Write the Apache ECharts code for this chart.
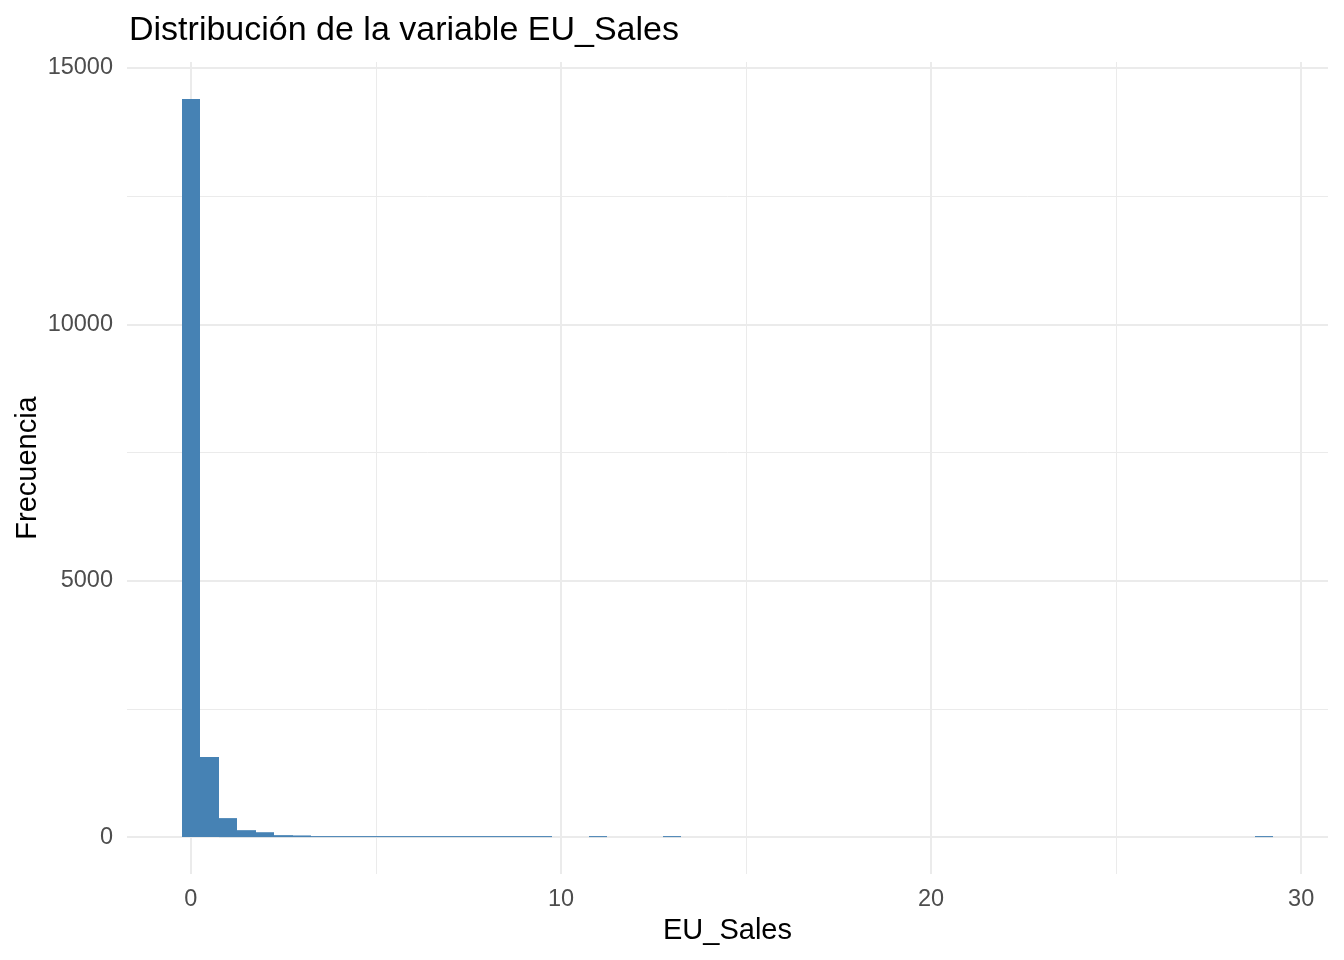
<!DOCTYPE html>
<html>
<head>
<meta charset="utf-8">
<script src="https://cdn.jsdelivr.net/npm/echarts@6/dist/echarts.min.js"></script>
<style>
html,body{margin:0;padding:0;background:#fff;}
#c{width:1344px;height:960px;}
</style>
</head>
<body>
<div id="c"></div>
<script>
// Histogram of EU_Sales (bin width 0.5, bins centred on multiples of 0.5)
const binCenters = [0, 0.5, 1.0, 1.5, 2.0, 2.5, 3.0, 3.5, 4.0, 4.5, 5.0, 5.5, 6.0, 6.5, 7.0, 7.5, 8.0, 8.5, 9.0, 9.5, 11.0, 13.0, 29.0];
const binCounts  = [14394, 1560, 370, 135, 95, 38, 32, 16, 12, 10, 8, 6, 5, 5, 4, 4, 4, 3, 3, 3, 2, 1, 1];
const binWidth = 0.5;
const xMajorTicks = [0, 10, 20, 30];
const xMinorTicks = [5, 15, 25];
const yMajorTicks = [0, 5000, 10000, 15000];
const yMinorTicks = [2500, 7500, 12500];

const titleText = 'Distribución de la variable EU_Sales';
const xName = 'EU_Sales';
const yName = 'Frecuencia';

// ggplot-style 5% expansion
const xLo = binCenters[0] - binWidth / 2, xHi = binCenters[binCenters.length - 1] + binWidth / 2;
const xPad = (xHi - xLo) * 0.05;
const yMaxData = Math.max.apply(null, binCounts);
const yPad = yMaxData * 0.05;

const FONT = '"Liberation Sans", Arial, sans-serif';
const GRID = '#EBEBEB';
const plain = v => String(v);

const chart = echarts.init(document.getElementById('c'), null, {renderer: 'canvas'});
const data = binCenters.map((c, i) => [c, binCounts[i]]);

chart.setOption({
  backgroundColor: '#ffffff',
  animation: false,
  title: {
    text: titleText,
    left: 124, top: 9,
    textStyle: {fontFamily: FONT, fontSize: 34, fontWeight: 'normal', color: '#000'}
  },
  grid: {left: 127, right: 16, top: 62, bottom: 86, containLabel: false, outerBoundsMode: 'none'},
  xAxis: [{
    type: 'value',
    min: xLo - xPad, max: xHi + xPad,
    name: xName, nameLocation: 'middle', nameGap: 42, nameMoveOverlap: false,
    nameTextStyle: {fontFamily: FONT, fontSize: 29, color: '#000'},
    axisLine: {show: false},
    axisTick: {show: false, customValues: xMajorTicks},
    axisLabel: {customValues: xMajorTicks, formatter: plain, fontFamily: FONT, fontSize: 23.5, color: '#4D4D4D', margin: 14},
    splitLine: {show: true, lineStyle: {color: GRID, width: 2}}
  }, {
    type: 'value',
    min: xLo - xPad, max: xHi + xPad,
    position: 'bottom',
    axisLine: {show: false},
    axisTick: {show: false, customValues: xMinorTicks},
    axisLabel: {show: false, customValues: xMinorTicks},
    splitLine: {show: true, lineStyle: {color: GRID, width: 1}}
  }],
  yAxis: [{
    type: 'value',
    min: -yPad, max: yMaxData + yPad,
    name: yName, nameLocation: 'middle', nameGap: 85, nameRotate: 90, nameMoveOverlap: false,
    nameTextStyle: {fontFamily: FONT, fontSize: 29, color: '#000'},
    axisLine: {show: false},
    axisTick: {show: false, customValues: yMajorTicks},
    axisLabel: {customValues: yMajorTicks, formatter: plain, fontFamily: FONT, fontSize: 23.5, color: '#4D4D4D', margin: 14},
    splitLine: {show: true, lineStyle: {color: GRID, width: 2}}
  }, {
    type: 'value',
    min: -yPad, max: yMaxData + yPad,
    position: 'left',
    axisLine: {show: false},
    axisTick: {show: false, customValues: yMinorTicks},
    axisLabel: {show: false, customValues: yMinorTicks},
    splitLine: {show: true, lineStyle: {color: GRID, width: 1}}
  }],
  series: [{
    type: 'custom',
    xAxisIndex: 0, yAxisIndex: 0,
    data: data,
    z: 5,
    renderItem: function (params, api) {
      const c = api.value(0), v = api.value(1);
      const p0 = api.coord([c - binWidth / 2, 0]);
      const p1 = api.coord([c + binWidth / 2, v]);
      const x0 = Math.round(p0[0]), x1 = Math.round(p1[0]);
      let h = p0[1] - p1[1];
      if (h < 1) h = 1;
      return {
        type: 'rect',
        shape: {x: x0, y: p0[1] - h, width: x1 - x0, height: h},
        style: {fill: '#4682B4'}
      };
    }
  }]
});
</script>
</body>
</html>
